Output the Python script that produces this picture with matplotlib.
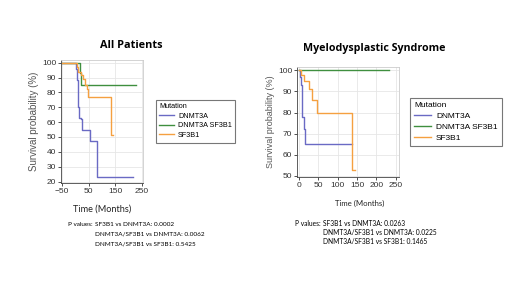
import matplotlib.pyplot as plt

# ---- data: Kaplan-Meier step points (time in months, survival %) ----
ap_dnmt3a_t = [-50, 3, 6, 9, 11, 14, 20, 25, 54, 81, 216]
ap_dnmt3a_s = [100, 96, 88, 80, 70, 63, 62, 55, 47, 23, 23]
ap_both_t = [-50, 16, 22, 229]
ap_both_s = [100, 93, 85, 85]
ap_sf3b1_t = [-50, 6, 11, 21, 28, 36, 43, 48, 135, 141]
ap_sf3b1_s = [100, 97, 94, 92, 89, 85, 82, 77, 51, 51]

mds_dnmt3a_t = [0, 3, 6, 9, 14, 16, 136]
mds_dnmt3a_s = [100, 97, 93, 78, 72, 65, 65]
mds_both_t = [0, 231]
mds_both_s = [100, 100]
mds_sf3b1_t = [0, 6, 14, 27, 34, 46, 136, 144]
mds_sf3b1_s = [100, 98, 95, 91, 86, 80, 53, 53]

labels = ["DNMT3A", "DNMT3A SF3B1", "SF3B1"]
colors = ["#6a6ac4", "#3f8f3f", "#f5a040"]

ap_pvals = ["SF3B1 vs DNMT3A: 0.0002",
            "DNMT3A/SF3B1 vs DNMT3A: 0.0062",
            "DNMT3A/SF3B1 vs SF3B1: 0.5425"]
mds_pvals = ["SF3B1 vs DNMT3A: 0.0263",
             "DNMT3A/SF3B1 vs DNMT3A: 0.0225",
             "DNMT3A/SF3B1 vs SF3B1: 0.1465"]

W, H = 520, 292
fig = plt.figure(figsize=(W / 100, H / 100), dpi=100)
fig.patch.set_facecolor("white")


def px_axes(l, t, r, b):
    return fig.add_axes([l / W, 1 - b / H, (r - l) / W, (b - t) / H])


def km_panel(ax, series, xlim, ylim, xticks, yticks, fs, yfs):
    for (t, s), lab, c in zip(series, labels, colors):
        ax.step(t, s, where="post", color=c, lw=1.0, label=lab)
    ax.set_xlim(*xlim)
    ax.set_ylim(*ylim)
    ax.set_xticks(xticks)
    ax.set_yticks(yticks)
    ax.grid(True, color="#e6e6e6", lw=0.6)
    ax.set_axisbelow(True)
    ax.tick_params(labelsize=fs, length=2, width=0.6, pad=1.5, colors="#333333")
    for sp in ax.spines.values():
        sp.set_color("#cccccc")
        sp.set_linewidth(0.6)
    ax.spines["left"].set_color("#444444")
    ax.spines["bottom"].set_color("#444444")
    ax.set_ylabel("Survival probability (%)", fontsize=yfs, color="#555555",
                  family="Liberation Sans", labelpad=2)
    for lbl in ax.get_xticklabels() + ax.get_yticklabels():
        lbl.set_family("Liberation Sans")


def legend(ax, anchor, fs, hl):
    lg = ax.legend(title="Mutation", loc="upper left", bbox_to_anchor=anchor,
                   bbox_transform=fig.transFigure, frameon=True, fancybox=False,
                   edgecolor="#555555", handlelength=hl, handletextpad=0.6,
                   borderpad=0.5, labelspacing=0.35,
                   prop={"family": "Liberation Sans", "size": fs})
    lg._legend_box.align = "left"
    lg.get_title().set_family("Liberation Sans")
    lg.get_title().set_fontsize(fs)
    lg.get_frame().set_linewidth(0.8)


def pvalues(x_label, x_col, y0, dy, lines, fs):
    fig.text(x_label / W, 1 - y0 / H, "P values:", ha="right", va="center",
             fontsize=fs, family="Lato")
    for i, s in enumerate(lines):
        fig.text(x_col / W, 1 - (y0 + dy * i) / H, s, ha="left", va="center",
                 fontsize=fs, family="Lato")


# ---- All Patients ----
ax1 = px_axes(61, 60, 143, 183)
km_panel(ax1, [(ap_dnmt3a_t, ap_dnmt3a_s), (ap_both_t, ap_both_s), (ap_sf3b1_t, ap_sf3b1_s)],
         (-54, 254), (19, 101.8), [-50, 50, 150, 250], range(20, 101, 10), 6, 7)
legend(ax1, (152 / W, 1 - 96 / H), 5.2, 2.0)
fig.text(131 / W, 1 - 45 / H, "All Patients", ha="center", va="center",
         fontsize=7.8, weight="bold", family="Open Sans")
fig.text(102 / W, 1 - 209 / H, "Time (Months)", ha="center", va="center",
         fontsize=6.6, family="Lato", color="#222222")
pvalues(93, 95, 224, 10, ap_pvals, 4.6)

# ---- Myelodysplastic Syndrome ----
ax2 = px_axes(297, 67, 399, 177)
km_panel(ax2, [(mds_dnmt3a_t, mds_dnmt3a_s), (mds_both_t, mds_both_s), (mds_sf3b1_t, mds_sf3b1_s)],
         (-4.4, 258), (49.5, 101.6), range(0, 251, 50), range(50, 101, 10), 6, 6.5)
legend(ax2, (406 / W, 1 - 94 / H), 6, 2.0)
fig.text(374 / W, 1 - 49 / H, "Myelodysplastic Syndrome", ha="center", va="center",
         fontsize=7.7, weight="bold", family="Open Sans")
fig.text(360 / W, 1 - 203 / H, "Time (Months)", ha="center", va="center",
         fontsize=5.6, family="Lato", color="#222222")
pvalues(321, 323, 223, 9.3, mds_pvals, 4.8)

fig.savefig("out.png", dpi=100)
